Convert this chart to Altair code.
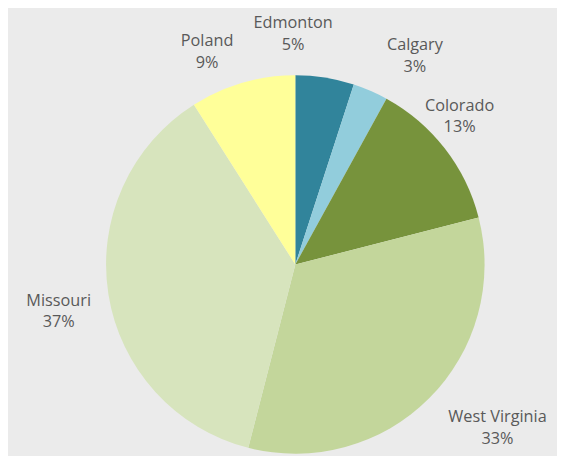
import altair as alt
import pandas as pd

names = ["Edmonton", "Calgary", "Colorado", "West Virginia", "Missouri", "Poland"]
values = [5, 3, 13, 33, 37, 9]
colors = ["#31849b", "#92cddc", "#77933c", "#c3d69b", "#d7e4bd", "#ffff99"]

# label nudges (style): dx, dy per category
nudges = {
    "Edmonton": (-39, -13),
    "Calgary": (28, -7),
    "Colorado": (-19, -17),
    "West Virginia": (39, -11),
    "Missouri": (-8, 0),
    "Poland": (-24, -1),
}

df = pd.DataFrame({"name": names, "value": values, "order": list(range(len(names)))})

CX, CY = 291.5, 257

base = alt.Chart(df).encode(
    theta=alt.Theta("value:Q", stack=True),
    order=alt.Order("order:Q"),
)

pie = base.mark_arc(outerRadius=192).encode(
    x=alt.value(CX),
    y=alt.value(CY),
    color=alt.Color("name:N", scale=alt.Scale(domain=names, range=colors), legend=None),
)

layers = [pie]
for n in names:
    dx, dy = nudges[n]
    layers.append(
        base.transform_calculate(
            label="datum.name + '\\n' + datum.value + '%'"
        ).mark_text(
            radius=235, lineBreak="\n", lineHeight=22, fontSize=16.5, font="Open Sans",
            color="#595959", align="center", baseline="middle", dx=dx, dy=dy
        ).encode(
            x=alt.value(CX),
            y=alt.value(CY),
            text="label:N",
            opacity=alt.condition(alt.datum.name == n, alt.value(1), alt.value(0)),
        )
    )

chart = alt.layer(*layers).properties(
    width=557, height=448, autosize="none", padding=0, background="#ebebeb"
).configure_view(stroke=None)

chart.save("out.html", embed_options={"renderer": "svg", "actions": False})
